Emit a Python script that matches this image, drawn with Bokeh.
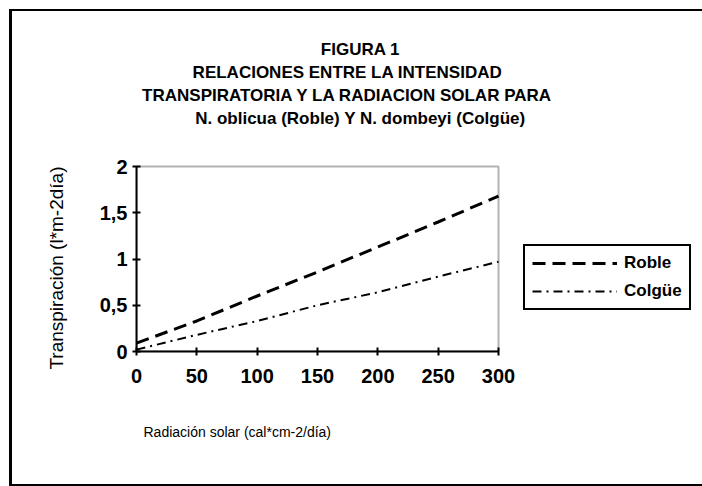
from bokeh.plotting import figure
from bokeh.models import (Legend, LegendItem, FixedTicker, Range1d, Title, Label,
                          BoxAnnotation)
from bokeh.embed import file_html
from bokeh.resources import INLINE

# ---- data ----
radiacion = [0, 50, 100, 150, 200, 250, 300]
roble = [0.09, 0.33, 0.60, 0.86, 1.13, 1.40, 1.68]
colgue = [0.02, 0.18, 0.33, 0.50, 0.64, 0.81, 0.97]
x_ticks = [0, 50, 100, 150, 200, 250, 300]
y_ticks = [0, 0.5, 1, 1.5, 2]
y_tick_labels = ["0", "0,5", "1", "1,5", "2"]
title_lines = ["FIGURA 1",
               "RELACIONES ENTRE LA INTENSIDAD",
               "TRANSPIRATORIA Y LA RADIACION SOLAR PARA",
               "N. oblicua (Roble) Y N. dombeyi (Colgüe)"]
series_names = ["Roble", "Colgüe"]
x_title = "Radiación solar (cal*cm-2/día)"
y_title = "Transpiración (l*m-2día)"

FONT = "Liberation Sans"
LEFT, TOP = 9, 9                 # outer frame on the page
OX, OY = LEFT + 3, TOP + 2       # canvas origin on the page
W, H = 702 - LEFT, 486 - TOP
X0, X1, Y0, Y1 = 0, 300, 0, 2    # plotted area
PL, PR, PT, PB = 136, 498, 166, 351   # plotted area on the page
FRAME_R, FRAME_T = OX + W, OY    # frame reaches canvas right and top
XMAX = X0 + (X1 - X0) * (FRAME_R - PL) / (PR - PL)
YMAX = Y0 + (Y1 - Y0) * (PB - FRAME_T) / (PB - PT)

p = figure(width=W, height=H, output_backend="svg", toolbar_location=None,
           x_range=Range1d(X0, XMAX), y_range=Range1d(Y0, YMAX),
           min_border_left=PL - OX, min_border_right=0,
           min_border_top=0, min_border_bottom=H - (PB - OY))
p.styles = {"margin-left": f"{LEFT}px", "margin-top": f"{TOP}px",
            "border-left": "3px solid black", "border-top": "2px solid black",
            "border-bottom": "2px solid black"}
p.background_fill_color = "white"
p.border_fill_color = "white"
p.outline_line_color = None
p.grid.visible = False

for ax in (p.xaxis[0], p.yaxis[0]):
    ax.axis_line_color = "black"
    ax.axis_line_width = 2
    ax.major_tick_line_color = "black"
    ax.major_tick_line_width = 2
    ax.major_tick_in = 4
    ax.major_tick_out = 4
    ax.minor_tick_line_color = None
    ax.major_label_text_font = FONT
    ax.major_label_text_font_size = "20px"
    ax.major_label_text_font_style = "bold"
    ax.major_label_text_color = "black"

p.xaxis.bounds = (X0, X1)
p.yaxis.bounds = (Y0, Y1)
p.xaxis.ticker = FixedTicker(ticks=x_ticks)
p.yaxis.ticker = FixedTicker(ticks=y_ticks)
p.yaxis.major_label_overrides = {t: l for t, l in zip(y_ticks, y_tick_labels)}
p.xaxis.major_label_standoff = 13
p.yaxis.major_label_standoff = 5

# box around the plotted area
p.add_layout(BoxAnnotation(left=X0, right=X1, bottom=Y0, top=Y1,
                           fill_alpha=0, line_color="black", line_width=2))

r1 = p.line(radiacion, roble, line_color="black", line_width=3, line_dash="13 7")
r2 = p.line(radiacion, colgue, line_color="black", line_width=2, line_dash="9 5 2 5")

legend = Legend(items=[LegendItem(label=series_names[0], renderers=[r1]),
                       LegendItem(label=series_names[1], renderers=[r2])],
                location=(523 - PL, PB - 310), orientation="vertical",
                glyph_width=85, glyph_height=20, label_height=20, spacing=8,
                padding=7, margin=0, label_standoff=7,
                label_text_font=FONT, label_text_font_size="17px",
                label_text_font_style="bold", label_text_color="black",
                border_line_color="black", border_line_width=2,
                border_line_alpha=1,
                background_fill_color="white", background_fill_alpha=1)
p.add_layout(legend, "center")


def dx(px):
    return X0 + (px - PL) / (PR - PL) * (X1 - X0)


def dy(py):
    return Y0 + (PB - py) / (PB - PT) * (Y1 - Y0)


title_cx = [360, 347, 347, 360]
title_cy = [49, 72, 95, 118]
for txt, cx, cy in zip(title_lines, title_cx, title_cy):
    p.add_layout(Label(x=dx(cx), y=dy(cy), text=txt, text_align="center",
                       text_baseline="middle", text_font=FONT,
                       text_font_size="17px", text_font_style="bold",
                       text_color="black"))

p.add_layout(Title(text=x_title, align="left", offset=143 - PL, standoff=72,
                   text_font=FONT, text_font_size="14px", text_font_style="normal",
                   text_color="black"), "below")
p.add_layout(Title(text=y_title, align="right", offset=166 - FRAME_T, standoff=60,
                   text_font=FONT, text_font_size="19px", text_font_style="normal",
                   text_color="black"), "left")

open("out.html", "w").write(file_html(p, INLINE))
